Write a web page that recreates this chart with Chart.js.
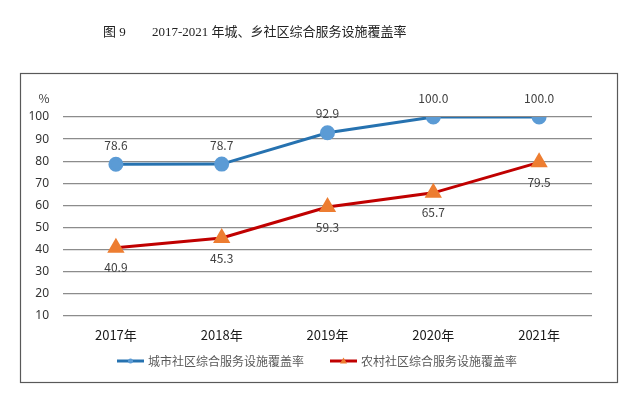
<!DOCTYPE html>
<html>
<head>
<meta charset="utf-8">
<script src="https://cdn.jsdelivr.net/npm/chart.js@4"></script>
<style>
  html, body { margin: 0; padding: 0; background: #fff; }
  #wrap { width: 643px; height: 396px; position: relative; }
</style>
</head>
<body>
<div id="wrap"><canvas id="c" width="643" height="396"></canvas></div>
<script>
// 数据
const years = ['2017年', '2018年', '2019年', '2020年', '2021年'];
const urbanRate = [78.6, 78.7, 92.9, 100.0, 100.0];
const ruralRate = [40.9, 45.3, 59.3, 65.7, 79.5];
const seriesNames = ['城市社区综合服务设施覆盖率', '农村社区综合服务设施覆盖率'];
const titleNo = '图 9';
const titleText = '2017-2021 年城、乡社区综合服务设施覆盖率';
const yUnit = '%';

const CJK = '"Noto Sans CJK SC", "Noto Sans", sans-serif';

// 外框、标题、单位、数据标签、图例
const decor = {
    id: 'decor',
    beforeDraw(chart) {
        const ctx = chart.ctx;
        ctx.save();
        ctx.strokeStyle = '#595959';
        ctx.lineWidth = 1.2;
        ctx.strokeRect(20.5, 73.5, 597, 309);
        ctx.fillStyle = '#222';
        ctx.font = '13px "Liberation Serif", "Noto Sans CJK SC", serif';
        ctx.textBaseline = 'middle';
        ctx.textAlign = 'left';
        ctx.fillText(titleNo, 103, 33);
        ctx.fillText(titleText, 152, 33);
        ctx.restore();
    },
    afterDatasetsDraw(chart) {
        const ctx = chart.ctx;
        ctx.save();
        ctx.font = '12px ' + CJK;
        ctx.fillStyle = '#404040';
        ctx.textAlign = 'center';
        ctx.textBaseline = 'middle';
        ctx.fillText(yUnit, 44, 98);
        chart.data.datasets.forEach((ds, i) => {
            const meta = chart.getDatasetMeta(i);
            meta.data.forEach((pt, j) => {
                const dy = i === 0 ? -19 : 20;
                ctx.fillText(ds.data[j].toFixed(1), pt.x, pt.y + dy);
            });
        });
        // 图例
        const items = [
            { x: 117, ds: chart.data.datasets[0] },
            { x: 330, ds: chart.data.datasets[1] }
        ];
        const ly = 361;
        items.forEach(it => {
            ctx.strokeStyle = it.ds.borderColor;
            ctx.lineWidth = 3;
            ctx.beginPath();
            ctx.moveTo(it.x, ly);
            ctx.lineTo(it.x + 27, ly);
            ctx.stroke();
            ctx.fillStyle = it.ds.pointBackgroundColor;
            ctx.beginPath();
            if (it.ds.pointStyle === 'triangle') {
                ctx.moveTo(it.x + 13.5, ly - 3.5);
                ctx.lineTo(it.x + 17, ly + 2.5);
                ctx.lineTo(it.x + 10, ly + 2.5);
                ctx.closePath();
            } else {
                ctx.arc(it.x + 13.5, ly, 2.5, 0, Math.PI * 2);
            }
            ctx.fill();
            ctx.fillStyle = '#595959';
            ctx.font = '12px ' + CJK;
            ctx.textAlign = 'left';
            ctx.fillText(it.ds.label, it.x + 31, ly);
        });
        ctx.restore();
    }
};

new Chart(document.getElementById('c'), {
    type: 'line',
    data: {
        labels: years,
        datasets: [
            {
                label: seriesNames[0], data: urbanRate,
                borderColor: '#2672b0', borderWidth: 3,
                pointStyle: 'circle', pointRadius: 6,
                pointBackgroundColor: '#5b9bd5', pointBorderColor: '#5b9bd5',
                tension: 0
            },
            {
                label: seriesNames[1], data: ruralRate,
                borderColor: '#c00000', borderWidth: 3,
                pointStyle: 'triangle', pointRadius: 7,
                pointBackgroundColor: '#ed7d31', pointBorderColor: '#ed7d31',
                tension: 0
            }
        ]
    },
    options: {
        responsive: false,
        animation: false,
        devicePixelRatio: 1,
        layout: { padding: { left: 0, right: 51, top: 117, bottom: 44 } },
        plugins: { legend: { display: false }, title: { display: false }, tooltip: { enabled: false } },
        scales: {
            x: {
                offset: true,
                grid: { display: false, drawTicks: false },
                border: { display: false },
                ticks: { color: '#1a1a1a', font: { size: 13, family: CJK }, padding: 11, maxRotation: 0 },
                afterFit(scale) { scale.height = 36; }
            },
            y: {
                min: 10, max: 100,
                grid: { color: '#8c8c8c', lineWidth: 1.3, drawTicks: false },
                border: { display: false },
                ticks: { stepSize: 10, color: '#333', font: { size: 12, family: '"Noto Sans", sans-serif' }, padding: 14 },
                afterFit(scale) { scale.width = 63; }
            }
        }
    },
    plugins: [decor]
});
</script>
</body>
</html>
